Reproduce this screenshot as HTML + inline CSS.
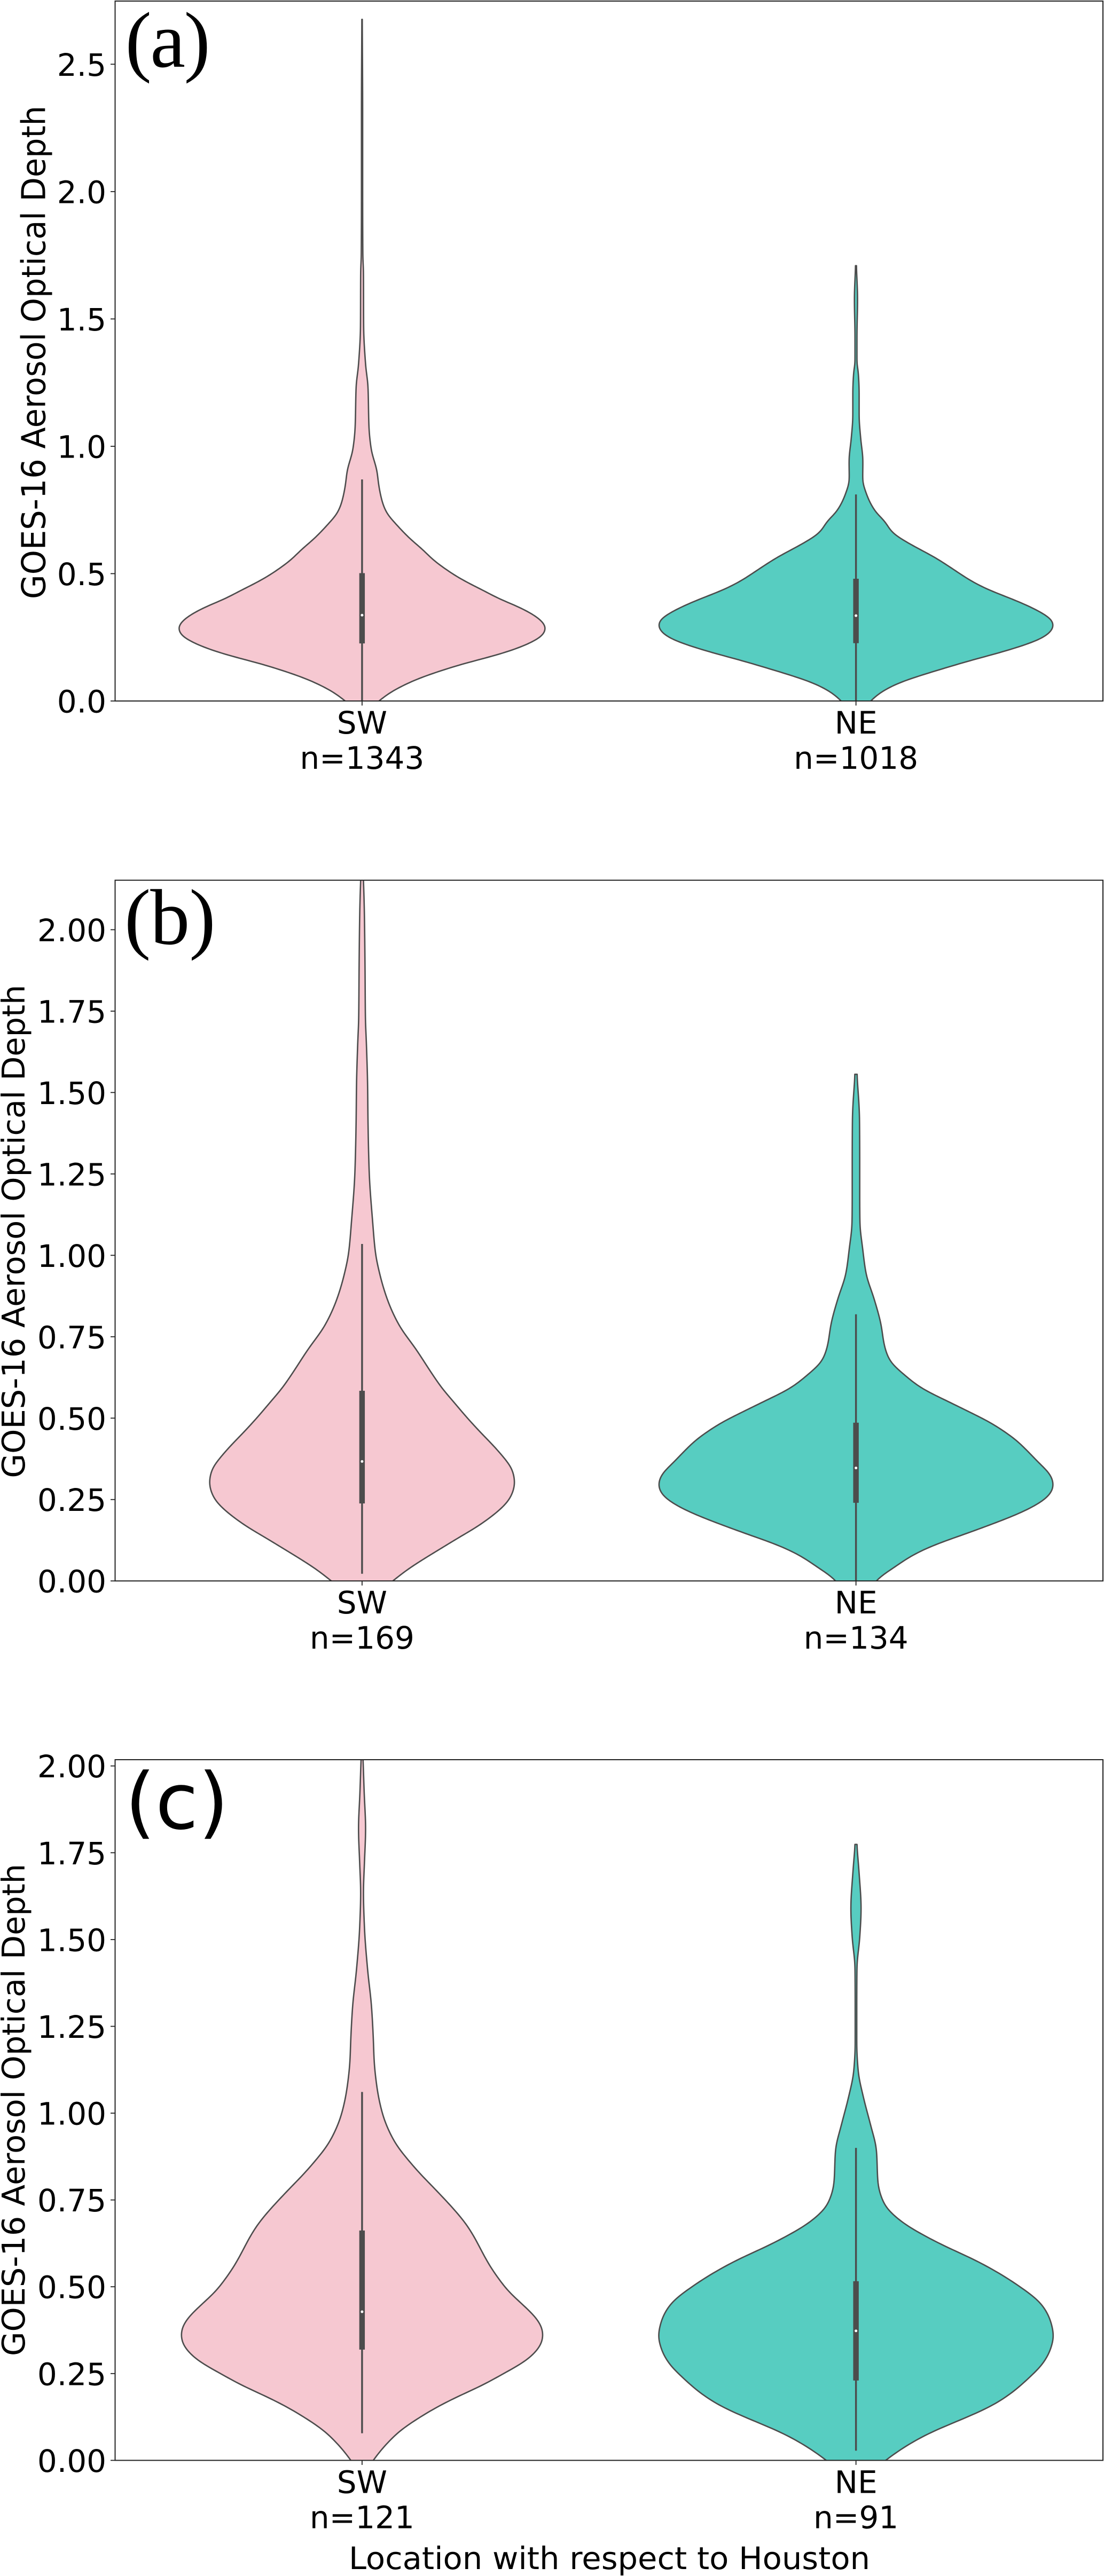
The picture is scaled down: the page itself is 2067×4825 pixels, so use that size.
<!DOCTYPE html>
<html lang="en">
<head>
<meta charset="utf-8">
<title>GOES-16 Aerosol Optical Depth violin plots</title>
<style>
html,body{margin:0;padding:0;background:#fff;}
svg{display:block;}
text{fill:#000;}
.dv{font-family:"DejaVu Sans","Liberation Sans",sans-serif;}
.tnr{font-family:"Liberation Serif",serif;}
</style>
</head>
<body>
<svg id="figure" xmlns="http://www.w3.org/2000/svg" width="2067" height="4825" viewBox="0 0 2067 4825">
  <rect x="0" y="0" width="2067" height="4825" fill="#ffffff"/>
  <g id="panels"></g>
  <text class="tnr" x="234.5" y="125" font-size="148" letter-spacing="-2.5">(a)</text>
  <text class="tnr" x="233" y="1768" font-size="148" letter-spacing="-1">(b)</text>
  <text class="dv" x="234" y="3425" font-size="146">(c)</text>
  <text class="dv" font-size="59" text-anchor="middle" textLength="924" lengthAdjust="spacingAndGlyphs" transform="translate(84.3 660) rotate(-90) scale(1 1.04)">GOES-16 Aerosol Optical Depth</text>
  <text class="dv" font-size="59" text-anchor="middle" textLength="924" lengthAdjust="spacingAndGlyphs" transform="translate(46 2306.5) rotate(-90)">GOES-16 Aerosol Optical Depth</text>
  <text class="dv" font-size="59" text-anchor="middle" textLength="922" lengthAdjust="spacingAndGlyphs" transform="translate(46 3952) rotate(-90)">GOES-16 Aerosol Optical Depth</text>
  <text class="dv" font-size="58" text-anchor="middle" x="1141" y="4812" textLength="976" lengthAdjust="spacingAndGlyphs">Location with respect to Houston</text>
</svg>
<script>
// ---------- Data ----------
// AOD = aerosol optical depth value; density = violin half-width as % of the widest violin
const categories = ['SW', 'NE'];

const ticksA = [0, 0.5, 1, 1.5, 2, 2.5];
const tickLabelsA = ['0.0', '0.5', '1.0', '1.5', '2.0', '2.5'];
const ticksB = [0, 0.25, 0.5, 0.75, 1, 1.25, 1.5, 1.75, 2];
const tickLabelsB = ['0.00', '0.25', '0.50', '0.75', '1.00', '1.25', '1.50', '1.75', '2.00'];
const ticksC = [0, 0.25, 0.5, 0.75, 1, 1.25, 1.5, 1.75, 2];
const tickLabelsC = ['0.00', '0.25', '0.50', '0.75', '1.00', '1.25', '1.50', '1.75', '2.00'];

const countsA = ['n=1343', 'n=1018'];
const countsB = ['n=169', 'n=134'];
const countsC = ['n=121', 'n=91'];

const domainTopA = 2.748;
const domainTopB = 2.152;
const domainTopC = 2.018;

const aodASW = [2.676, 2.3, 2.0, 1.75, 1.683, 1.47, 1.32, 1.234, 1.075, 0.99, 0.9, 0.85, 0.78, 0.74, 0.691, 0.635, 0.597, 0.551, 0.52, 0.488, 0.457, 0.43, 0.4, 0.377, 0.346, 0.317, 0.289, 0.262, 0.231, 0.201, 0.174, 0.147, 0.117, 0.09, 0.059, 0.031, 0.002, -0.03, -0.08, -0.12];
const densityASW = [0.1, 0.3, 0.3, 0.4, 0.7, 0.8, 1.8, 3.0, 3.5, 4.6, 7.6, 8.4, 10.3, 12.4, 17.6, 24.6, 30.3, 36.5, 41.9, 48.1, 55.4, 62.4, 69.7, 77, 85.1, 90.5, 93, 91.9, 85.9, 76.5, 65.1, 51.6, 39.2, 29.2, 20.3, 13.8, 8.9, 4, 0.8, 0];

const aodANE = [1.709, 1.576, 1.429, 1.326, 1.296, 1.208, 1.12, 1.03, 0.943, 0.87, 0.811, 0.74, 0.709, 0.66, 0.639, 0.611, 0.562, 0.516, 0.471, 0.436, 0.408, 0.373, 0.345, 0.324, 0.303, 0.285, 0.266, 0.244, 0.22, 0.188, 0.16, 0.129, 0.097, 0.073, 0.037, 0.003, -0.04, -0.09, -0.13];
const densityANE = [0.2, 0.8, 0.5, 0.5, 1.1, 1.6, 1.6, 2.4, 3.5, 3.4, 5.4, 10.2, 14.2, 18.6, 22.4, 28.6, 40.3, 49.5, 58.4, 67.3, 76.5, 87.3, 94.3, 98.4, 100, 99.7, 97.8, 93.5, 85.4, 71.9, 58.4, 44.9, 31.4, 22.4, 13.2, 7.8, 3.5, 1, 0];

const aodBSW = [2.2, 2.152, 2.042, 1.885, 1.729, 1.65, 1.525, 1.415, 1.258, 1.1, 1.007, 0.944, 0.866, 0.787, 0.709, 0.631, 0.592, 0.551, 0.499, 0.458, 0.412, 0.374, 0.346, 0.319, 0.3, 0.276, 0.248, 0.223, 0.196, 0.166, 0.133, 0.1, 0.067, 0.035, 0.003, -0.04, -0.09, -0.15];
const densityBSW = [0.3, 0.7, 1.2, 1.5, 1.7, 2.2, 2.8, 3.0, 3.6, 5.4, 6.8, 8.9, 12.7, 18.6, 27.6, 36, 40.5, 46.2, 53.5, 59.7, 67, 72.4, 75.7, 77, 77.3, 76.5, 74.3, 70.5, 65.1, 58.1, 48.9, 40, 31.1, 23, 16.2, 8, 3, 0];

const aodBNE = [1.556, 1.415, 1.289, 1.18, 1.1, 1.02, 0.944, 0.866, 0.787, 0.725, 0.678, 0.631, 0.592, 0.554, 0.516, 0.489, 0.461, 0.434, 0.396, 0.357, 0.333, 0.308, 0.292, 0.267, 0.245, 0.223, 0.196, 0.171, 0.141, 0.112, 0.079, 0.043, 0.003, -0.04, -0.09, -0.14];
const densityBNE = [0.5, 1.8, 1.9, 1.9, 2.0, 3.4, 5.1, 9.2, 12.7, 14.3, 17, 24.9, 33.2, 45.7, 58.4, 67.3, 74.6, 80.8, 87.3, 93.5, 97.6, 99.7, 100, 98.4, 94.3, 88.1, 78.1, 67.3, 53.8, 40.3, 28.6, 19.7, 10.5, 5.9, 2.2, 0];

const aodCSW = [2.06, 2.018, 1.92, 1.82, 1.72, 1.636, 1.536, 1.414, 1.306, 1.214, 1.153, 1.076, 0.999, 0.923, 0.846, 0.769, 0.723, 0.68, 0.641, 0.6, 0.564, 0.525, 0.486, 0.448, 0.412, 0.389, 0.368, 0.347, 0.324, 0.301, 0.278, 0.255, 0.216, 0.185, 0.154, 0.121, 0.085, 0.051, 0.021, 0, -0.03, -0.07];
const densityCSW = [0.2, 0.5, 1.1, 1.8, 1.2, 0.7, 1.2, 2.8, 4.8, 5.7, 6.1, 7.5, 10.3, 15.9, 26.2, 39, 46.5, 52.7, 57, 60.8, 64.3, 68.9, 74.3, 81.4, 87.8, 90.5, 91.6, 91.4, 89.5, 85.9, 80.5, 73.2, 60.8, 48.9, 38.1, 28.4, 19.2, 13, 8.4, 5.7, 2.2, 0.3];

const aodCNE = [1.774, 1.69, 1.59, 1.505, 1.42, 1.306, 1.199, 1.122, 1.045, 0.968, 0.892, 0.8, 0.738, 0.692, 0.631, 0.569, 0.508, 0.447, 0.4, 0.358, 0.32, 0.278, 0.24, 0.193, 0.155, 0.124, 0.078, 0.04, 0, -0.04, -0.09, -0.14];
const densityCNE = [0.4, 1.6, 2.6, 1.9, 0.5, 0.4, 0.4, 1.1, 3.8, 7.3, 10.4, 11.1, 14.3, 22, 40, 63, 81, 94.3, 98.6, 100, 98.5, 94.5, 88, 78.5, 68, 56, 37, 25, 15, 6.8, 2.2, 0];

// [SW, NE] box statistics
const whiskerHighA = [0.87, 0.811];
const q3A = [0.502, 0.48];
const medianA = [0.337, 0.335];
const q1A = [0.226, 0.227];
const whiskerLowA = [0, 0];

const whiskerHighB = [1.035, 0.819];
const q3B = [0.584, 0.486];
const medianB = [0.367, 0.347];
const q1B = [0.238, 0.24];
const whiskerLowB = [0.022, 0];

const whiskerHighC = [1.061, 0.9];
const q3C = [0.662, 0.516];
const medianC = [0.428, 0.373];
const q1C = [0.319, 0.23];
const whiskerLowC = [0.078, 0.028];

// ---------- Layout ----------
const AXIS_LEFT = 215.5;
const AXIS_RIGHT = 2065;
const FILLS = ['#f6c8d1', '#57cdc1'];
const LINE = '#4c4c4c';
const NS = 'http://www.w3.org/2000/svg';
const KDE_STEP = 0.004;
const KDE_SIGMA = 0.013;
const root = document.getElementById('panels');

const panels = [
  { id: 'a', top: 2, bottom: 1313, domainTop: domainTopA, ticks: ticksA, tickLabels: tickLabelsA, counts: countsA,
    aod: [aodASW, aodANE], density: [densityASW, densityANE],
    whiskerHigh: whiskerHighA, q3: q3A, median: medianA, q1: q1A, whiskerLow: whiskerLowA },
  { id: 'b', top: 1648.7, bottom: 2961.2, domainTop: domainTopB, ticks: ticksB, tickLabels: tickLabelsB, counts: countsB,
    aod: [aodBSW, aodBNE], density: [densityBSW, densityBNE],
    whiskerHigh: whiskerHighB, q3: q3B, median: medianB, q1: q1B, whiskerLow: whiskerLowB },
  { id: 'c', top: 3296, bottom: 4608.4, domainTop: domainTopC, ticks: ticksC, tickLabels: tickLabelsC, counts: countsC,
    aod: [aodCSW, aodCNE], density: [densityCSW, densityCNE],
    whiskerHigh: whiskerHighC, q3: q3C, median: medianC, q1: q1C, whiskerLow: whiskerLowC }
];

function xScale(position) {
  return AXIS_LEFT + (position + 0.5) / 2 * (AXIS_RIGHT - AXIS_LEFT);
}
function widthScale(density) {
  return density / 100 * (xScale(0.4) - xScale(0));
}
function makeYScale(panel) {
  return function (v) {
    return panel.bottom - v / panel.domainTop * (panel.bottom - panel.top);
  };
}
function el(tag, attrs, parent) {
  const node = document.createElementNS(NS, tag);
  Object.keys(attrs).forEach(function (k) { node.setAttribute(k, attrs[k]); });
  parent.appendChild(node);
  return node;
}
// Shape-preserving cubic (PCHIP) evaluation of density against ascending AOD
function pchip(aod, density) {
  const n = aod.length;
  const h = [];
  const d = [];
  for (let i = 0; i < n - 1; i++) {
    h[i] = aod[i + 1] - aod[i];
    d[i] = (density[i + 1] - density[i]) / h[i];
  }
  const m = [d[0]];
  for (let i = 1; i < n - 1; i++) {
    if (d[i - 1] * d[i] <= 0) {
      m[i] = 0;
    } else {
      const w1 = 2 * h[i] + h[i - 1];
      const w2 = h[i] + 2 * h[i - 1];
      m[i] = (w1 + w2) / (w1 / d[i - 1] + w2 / d[i]);
    }
  }
  m[n - 1] = d[n - 2];
  return function (v) {
    let i = 0;
    while (i < n - 2 && v > aod[i + 1]) { i++; }
    const t = (v - aod[i]) / h[i];
    const t2 = t * t;
    const t3 = t2 * t;
    return (2 * t3 - 3 * t2 + 1) * density[i] + (t3 - 2 * t2 + t) * h[i] * m[i] +
      (-2 * t3 + 3 * t2) * density[i + 1] + (t3 - t2) * h[i] * m[i + 1];
  };
}
// Uniform resampling followed by a light Gaussian kernel, so the outline is as smooth as a KDE
function resample(aod, density) {
  const low = aod[0];
  const high = aod[aod.length - 1];
  const f = pchip(aod, density);
  const count = Math.ceil((high - low) / KDE_STEP);
  const raw = [];
  for (let i = 0; i <= count; i++) {
    raw.push(f(low + (high - low) * i / count));
  }
  const stepSize = (high - low) / count;
  const radius = Math.ceil(3 * KDE_SIGMA / stepSize);
  const out = [];
  for (let i = 0; i <= count; i++) {
    let sum = 0;
    let weight = 0;
    for (let k = Math.max(0, i - radius); k <= Math.min(count, i + radius); k++) {
      const z = (k - i) * stepSize / KDE_SIGMA;
      const w = Math.exp(-0.5 * z * z);
      sum += w * raw[k];
      weight += w;
    }
    out.push([low + i * stepSize, Math.max(0, sum / weight)]);
  }
  return out;
}
function violinPath(samples, cx, y) {
  const right = samples.map(function (s) { return (cx + widthScale(s[1])).toFixed(2) + ' ' + y(s[0]).toFixed(2); });
  const left = samples.map(function (s) { return (cx - widthScale(s[1])).toFixed(2) + ' ' + y(s[0]).toFixed(2); }).reverse();
  return 'M' + right.concat(left).join('L') + 'Z';
}

panels.forEach(function (panel) {
  const y = makeYScale(panel);
  const group = el('g', {}, root);
  
  

  const clipId = 'clip-' + panel.id;
  const defs = el('defs', {}, group);
  const clip = el('clipPath', { id: clipId }, defs);
  el('rect', { x: AXIS_LEFT, y: panel.top, width: AXIS_RIGHT - AXIS_LEFT, height: panel.bottom - panel.top }, clip);

  const plot = el('g', { 'clip-path': 'url(#' + clipId + ')' }, group);
  
  

  categories.forEach(function (cat, i) {
    const cx = xScale(i);
    const key = panel.id + '-' + cat.toLowerCase();
    const ascending = panel.aod[i].map(function (v, k) { return [v, panel.density[i][k]]; }).reverse();
    const samples = resample(ascending.map(function (p) { return p[0]; }), ascending.map(function (p) { return p[1]; })).reverse();

    const violin = el('path', { d: violinPath(samples, cx, y), fill: FILLS[i], stroke: LINE, 'stroke-width': 2.6, 'stroke-linejoin': 'round' }, plot);
    
    

    const whisker = el('line', { x1: cx, x2: cx, y1: y(panel.whiskerHigh[i]), y2: y(panel.whiskerLow[i]), stroke: LINE, 'stroke-width': 3.4 }, plot);
    
    

    const box = el('rect', { x: cx - 5.2, width: 10.4, y: y(panel.q3[i]), height: y(panel.q1[i]) - y(panel.q3[i]), fill: LINE }, plot);
    
    

    const med = el('circle', { cx: cx, cy: y(panel.median[i]), r: 2.5, fill: '#ffffff' }, plot);
    
    

    const xTick = el('line', { x1: cx, x2: cx, y1: panel.bottom, y2: panel.bottom + 8.5, stroke: '#222', 'stroke-width': 1.8 }, group);
    
    

    const catLabel = el('text', { class: 'dv', x: cx, y: panel.bottom + 61, 'font-size': 58, 'text-anchor': 'middle' }, group);
    catLabel.textContent = cat;
    
    

    const countLabel = el('text', { class: 'dv', x: cx, y: panel.bottom + 127, 'font-size': 58, 'text-anchor': 'middle' }, group);
    countLabel.textContent = panel.counts[i];
    
    
  });

  panel.ticks.forEach(function (t, i) {
    const tick = el('line', { x1: AXIS_LEFT - 8.5, x2: AXIS_LEFT, y1: y(t), y2: y(t), stroke: '#222', 'stroke-width': 1.8 }, group);
    
    

    const label = el('text', { class: 'dv', x: 199, y: y(t) + 21.5, 'font-size': 58, 'text-anchor': 'end' }, group);
    label.textContent = panel.tickLabels[i];
    
    
  });

  const frame = el('rect', { x: AXIS_LEFT, y: panel.top, width: AXIS_RIGHT - AXIS_LEFT, height: panel.bottom - panel.top, fill: 'none', stroke: '#222', 'stroke-width': 2 }, group);
  
  
});
</script>
</body>
</html>
